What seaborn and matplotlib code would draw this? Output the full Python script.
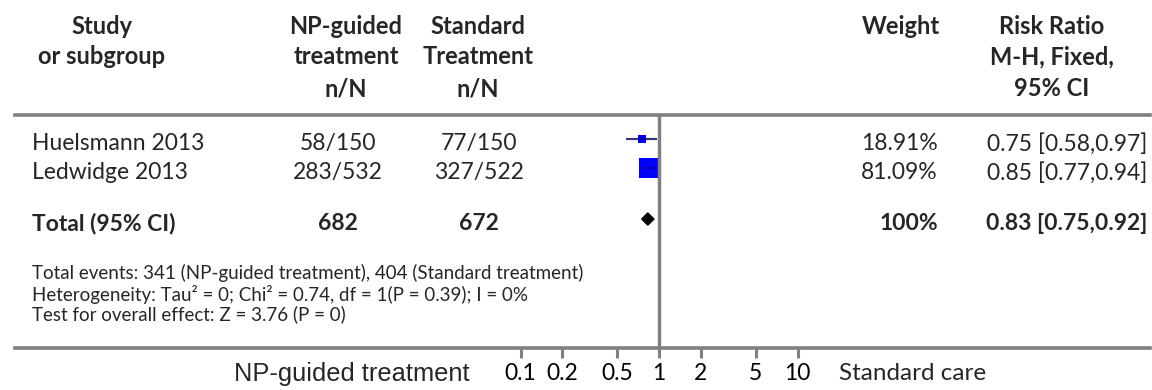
import numpy as np
import pandas as pd
import matplotlib
matplotlib.use("Agg")
import matplotlib.pyplot as plt
import matplotlib.transforms as mtransforms
from matplotlib.patches import Polygon
import seaborn as sns

# ---------------- data ----------------
studies = ["Huelsmann 2013", "Ledwidge 2013"]
np_events = ["58/150", "283/532"]
std_events = ["77/150", "327/522"]
weights = [18.91, 81.09]
rr = [0.75, 0.85]
ci_low = [0.58, 0.77]
ci_high = [0.97, 0.94]
weight_labels = ["18.91%", "81.09%"]
rr_labels = ["0.75 [0.58,0.97]", "0.85 [0.77,0.94]"]

total_label = "Total (95% CI)"
total_np = "682"
total_std = "672"
total_weight = "100%"
total_rr = 0.83
total_low = 0.75
total_high = 0.92
total_rr_label = "0.83 [0.75,0.92]"

stats_lines = [
    "Total events: 341 (NP-guided treatment), 404 (Standard treatment)",
    "Heterogeneity: Tau\u00b2 = 0; Chi\u00b2 = 0.74, df = 1(P = 0.39); I = 0%",
    "Test for overall effect: Z = 3.76 (P = 0)",
]
tick_values = [0.1, 0.2, 0.5, 1, 2, 5, 10]
tick_labels = ["0.1", "0.2", "0.5", "1", "2", "5", "10"]
left_label = "NP-guided treatment"
right_label = "Standard care"

headers = {
    "study": ["Study", "or subgroup"],
    "np": ["NP-guided", "treatment", "n/N"],
    "std": ["Standard", "Treatment", "n/N"],
    "weight": ["Weight"],
    "rr": ["Risk Ratio", "M-H, Fixed,", "95% CI"],
}

# ---------------- style ----------------
sns.set_theme(style="white")
plt.rcParams["font.family"] = ["Lato", "DejaVu Sans"]

W, H = 1152, 390
fig = plt.figure(figsize=(W / 100, H / 100), dpi=100)

def fx(px):
    return px / W

def fy(py):
    return 1 - py / H

GREY = "#808080"

# forest axes spans full table width; top & bottom spines are the rules
ax_left, ax_right, ax_top, ax_bottom = 15, 1150, 115, 348
ax = fig.add_axes([fx(ax_left), fy(ax_bottom), fx(ax_right - ax_left), (ax_bottom - ax_top) / H])

one_px = 659
decade = 138.5
xmin = 10 ** ((ax_left - one_px) / decade)
xmax = 10 ** ((ax_right - one_px) / decade)
ax.set_xscale("log")
ax.set_xlim(xmin, xmax)

row_h = 29.0
row0 = 139.0
ax.set_ylim((ax_bottom - row0) / row_h, (ax_top - row0) / row_h)

rows = list(range(len(studies)))
total_row = 2.76

df = pd.DataFrame({"rr": rr, "row": rows, "weight": weights, "lo": ci_low, "hi": ci_high})

# CI lines (light outer part) + weighted squares + dark inner line
ax.hlines(df["row"], df["lo"], df["hi"], color="#6f6f8f", lw=1.6, zorder=2)
sns.scatterplot(data=df, x="rr", y="row", size="weight", sizes=(32, 220),
                marker="s", color="#0000ff", edgecolor="none", legend=False, ax=ax, zorder=3)
ax.hlines(df["row"], df["lo"], df["hi"], color="#000060", lw=1.3, zorder=4, alpha=0.55)

# diamond for total
dh = 0.21
diamond = Polygon([[total_low, total_row], [total_rr, total_row - dh],
                   [total_high, total_row], [total_rr, total_row + dh]],
                  closed=True, color="black", zorder=3)
ax.add_patch(diamond)

# null line
ax.axvline(1, color=GREY, lw=2.5, zorder=5)

for s in ["left", "right"]:
    ax.spines[s].set_visible(False)
for s in ["top", "bottom"]:
    ax.spines[s].set_color(GREY)
    ax.spines[s].set_linewidth(2.6)

ax.set_yticks([])
ax.set_xticks(tick_values)
ax.set_xticklabels(tick_labels)
ax.xaxis.set_minor_locator(matplotlib.ticker.NullLocator())
ax.tick_params(axis="x", direction="out", length=7.5, width=2.2, color=GREY,
               pad=3, labelsize=16.5, labelcolor="black", bottom=True, top=False)
ax.set_xlabel("")
ax.set_ylabel("")
ax.patch.set_alpha(0)

# ---------------- table text ----------------
# text sits a few pixels below the marker centre, as in the reference
text_shift = mtransforms.ScaledTranslation(0, -4.5 / 100, fig.dpi_scale_trans)
trans = mtransforms.blended_transform_factory(fig.transFigure, ax.transData) + text_shift
row_fs = 16.5
col_np = 338
col_std = 479
col_weight_r = 938
col_rr_r = 1147
col_study = 32

for i, r in enumerate(rows):
    ax.text(fx(col_study), r, studies[i], transform=trans, ha="left", va="center", fontsize=row_fs)
    ax.text(fx(col_np), r, np_events[i], transform=trans, ha="center", va="center", fontsize=row_fs)
    ax.text(fx(col_std), r, std_events[i], transform=trans, ha="center", va="center", fontsize=row_fs)
    ax.text(fx(col_weight_r), r, weight_labels[i], transform=trans, ha="right", va="center", fontsize=row_fs)
    ax.text(fx(col_rr_r), r, rr_labels[i], transform=trans, ha="right", va="center", fontsize=row_fs)

bold = dict(fontsize=row_fs, fontweight="bold", va="center", transform=trans)
ax.text(fx(col_study), total_row, total_label, ha="left", **bold)
ax.text(fx(col_np), total_row, total_np, ha="center", **bold)
ax.text(fx(col_std), total_row, total_std, ha="center", **bold)
ax.text(fx(col_weight_r), total_row, total_weight, ha="right", **bold)
ax.text(fx(col_rr_r), total_row, total_rr_label, ha="right", **bold)

# stats lines
stat_y = [273, 294, 314]
for line, y in zip(stats_lines, stat_y):
    fig.text(fx(col_study), fy(y), line, ha="left", va="center", fontsize=13.5)

# headers
hdr_y = [26, 57, 89]
hdr_fs = 17
hdr_cols = {"study": 102, "np": 346, "std": 478, "weight": 901, "rr": 1052}
for key, lines in headers.items():
    for j, line in enumerate(lines):
        fig.text(fx(hdr_cols[key]), fy(hdr_y[j]), line, ha="center", va="center",
                 fontsize=hdr_fs, fontweight="bold")

# axis side labels
fig.text(fx(470), fy(374), left_label, ha="right", va="center", fontsize=18.3,
         family=["Liberation Sans", "DejaVu Sans"])
fig.text(fx(839), fy(374), right_label, ha="left", va="center", fontsize=17.5)

fig.savefig("out.png", dpi=100, facecolor="white")
